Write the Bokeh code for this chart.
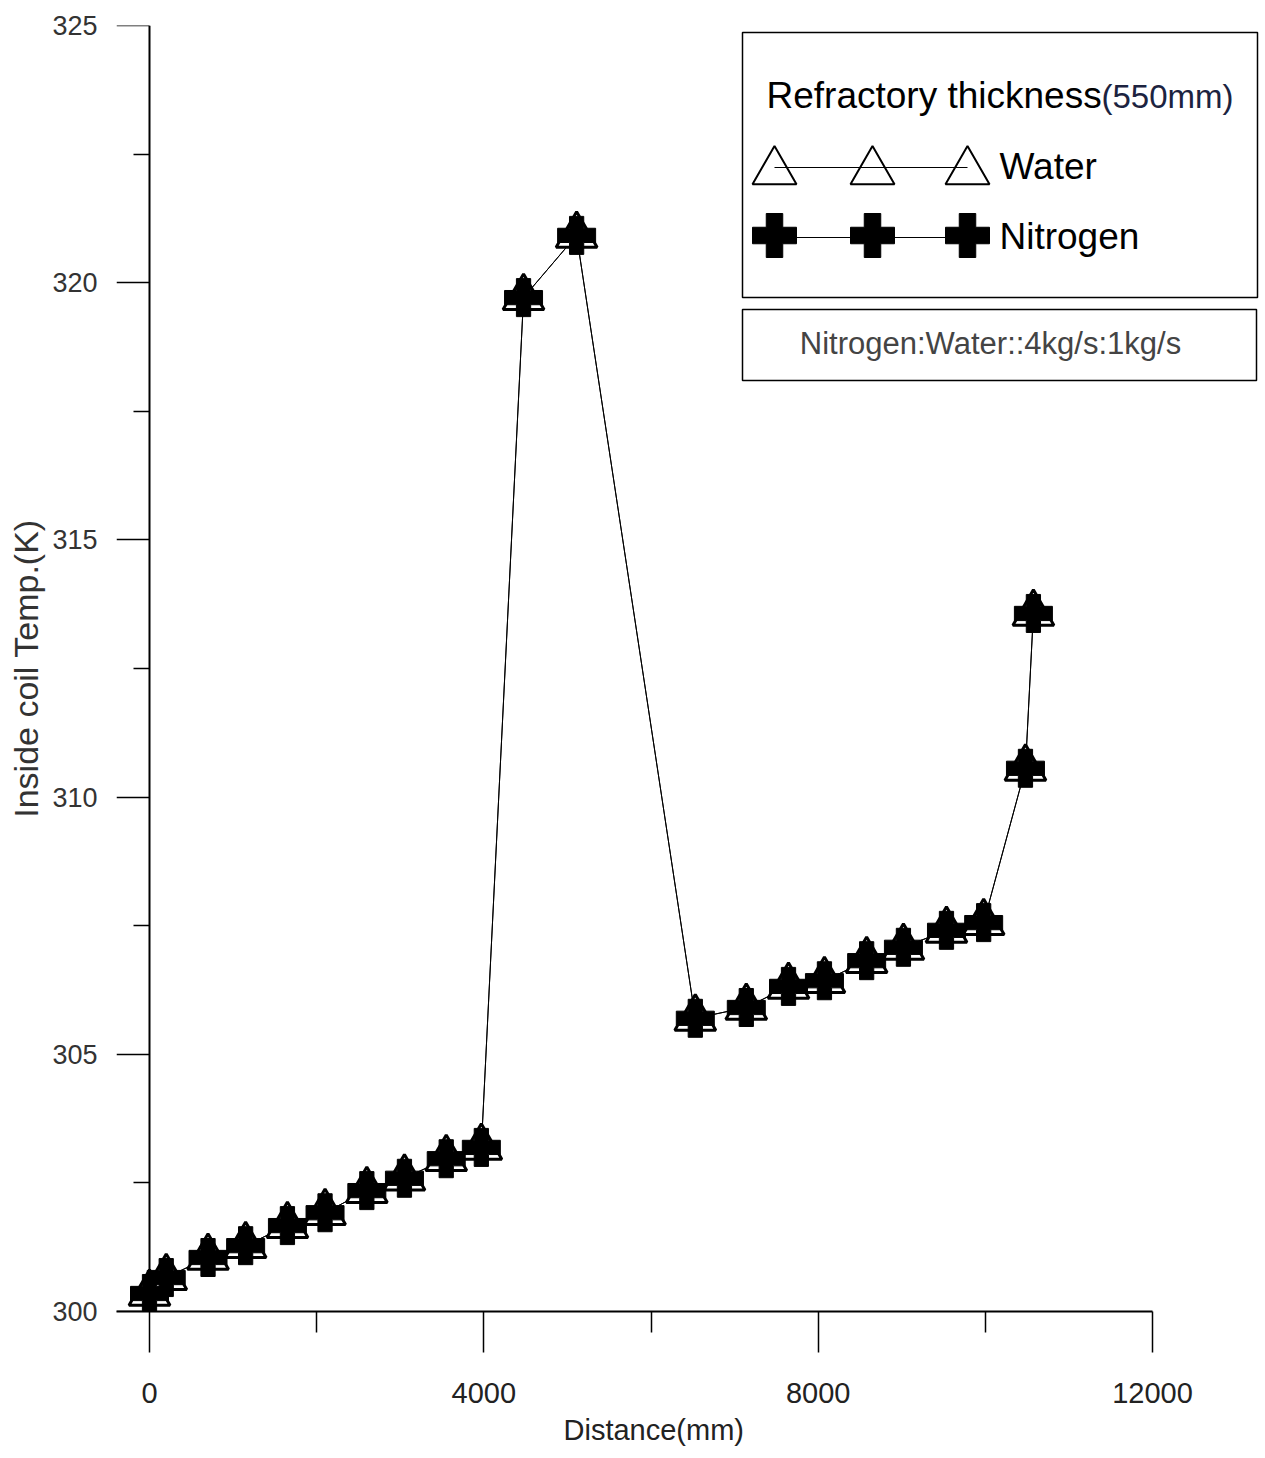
import math
from bokeh.plotting import figure
from bokeh.models import (Range1d, FixedTicker, Label, BoxAnnotation, ColumnDataSource,
                          LinearAxis, Title)
from bokeh.embed import file_html
from bokeh.resources import INLINE

# ---------------- data ----------------
distance_mm = [0, 200, 700, 1150, 1650, 2100, 2600, 3050, 3550, 3970,
               4475, 5110, 6530, 7140, 7645, 8075, 8580, 9020, 9535, 9980,
               10480, 10575]
water_temp = [300.35, 300.66, 301.05, 301.28, 301.67, 301.92, 302.35, 302.59,
              302.97, 303.19, 319.71, 320.92, 305.70, 305.91, 306.32, 306.43,
              306.82, 307.08, 307.41, 307.56, 310.56, 313.57]
nitrogen_temp = [300.35, 300.66, 301.05, 301.28, 301.67, 301.92, 302.35, 302.59,
                 302.97, 303.19, 319.71, 320.92, 305.70, 305.91, 306.32, 306.43,
                 306.82, 307.08, 307.41, 307.56, 310.56, 313.57]
x_major_ticks = [0, 4000, 8000, 12000]
x_minor_ticks = [2000, 6000, 10000]
y_major_ticks = [300, 305, 310, 315, 320, 325]
y_minor_ticks = [302.5, 307.5, 312.5, 317.5, 322.5]
series_names = ["Water", "Nitrogen"]
legend_title = "Refractory thickness"
legend_title_unit = "(550mm)"
ratio_note = "Nitrogen:Water::4kg/s:1kg/s"
x_title = "Distance(mm)"
y_title = "Inside coil Temp.(K)"

# ---------------- layout geometry ----------------
W, H = 1265, 1458
FL, FR, FT, FB = 116, 1263, 25, 1311
X0 = -395
MM_PER_PX = 12395 / 1036
X1 = X0 + (FR - FL) * MM_PER_PX
X_AXIS_END = 12000
Y0, Y1 = 300, 325


def dx(px):
    return X0 + (px - FL) * (X1 - X0) / (FR - FL)


def dy(py):
    return Y0 + (FB - py) * (Y1 - Y0) / (FB - FT)


SANS = "Liberation Sans"

p = figure(width=W, height=H, output_backend="svg", toolbar_location=None,
           x_range=Range1d(X0, X1), y_range=Range1d(Y0, Y1),
           min_border_left=FL, min_border_right=W - FR,
           min_border_top=FT, min_border_bottom=H - FB,
           y_axis_location=None)
p.outline_line_color = None
p.grid.visible = False
p.background_fill_color = "white"
p.border_fill_color = "white"

# x axis
xa = p.xaxis[0]
xa.bounds = (X0, X_AXIS_END)
xa.ticker = FixedTicker(ticks=x_major_ticks, minor_ticks=x_minor_ticks)
xa.axis_line_width = 2
xa.axis_line_color = "black"
xa.major_tick_in = 0
xa.major_tick_out = 41
xa.minor_tick_in = 0
xa.minor_tick_out = 21
xa.major_tick_line_width = 1.5
xa.minor_tick_line_width = 1.5
xa.major_label_text_font = SANS
xa.major_label_text_font_size = "29px"
xa.major_label_text_color = "#222222"
xa.major_label_standoff = 30

# x title, centred under the data span (not the whole frame)
p.add_layout(Title(text=x_title, align="left", offset=563 - FL, standoff=12,
                   text_font=SANS, text_font_size="29px", text_font_style="normal",
                   text_color="#222222"), "below")

# y axis line + ticks drawn at x = 0 (kept in the right panel so ticks point left)
y_ticker = FixedTicker(ticks=y_major_ticks, minor_ticks=y_minor_ticks)
ya = LinearAxis(ticker=y_ticker, fixed_location=0)
ya.axis_line_width = 2
ya.axis_line_color = "black"
ya.major_tick_in = 33
ya.major_tick_out = 0
ya.minor_tick_in = 16
ya.minor_tick_out = 0
ya.major_tick_line_width = 1.5
ya.minor_tick_line_width = 1.5
ya.major_label_text_font_size = "1px"
ya.major_label_text_color = None
ya.major_label_standoff = 0
p.add_layout(ya, "right")

# y tick labels + title in the left panel
yl = LinearAxis(ticker=y_ticker)
yl.axis_line_color = None
yl.major_tick_line_color = None
yl.minor_tick_line_color = None
yl.major_tick_in = 0
yl.major_tick_out = 0
yl.minor_tick_in = 0
yl.minor_tick_out = 0
yl.major_label_text_font = SANS
yl.major_label_text_font_size = "27px"
yl.major_label_text_color = "#333333"
yl.major_label_standoff = 19
yl.axis_label = y_title
yl.axis_label_text_font = SANS
yl.axis_label_text_font_size = "34px"
yl.axis_label_text_font_style = "normal"
yl.axis_label_text_color = "#333333"
yl.axis_label_standoff = 4
p.add_layout(yl, "left")

# ---------------- data series ----------------
src = ColumnDataSource(dict(x=distance_mm, water=water_temp, nitrogen=nitrogen_temp))
p.line("x", "water", source=src, line_color="black", line_width=1)
p.line("x", "nitrogen", source=src, line_color="black", line_width=1)
p.scatter("x", "water", source=src, marker="triangle", size=41,
          fill_color="white", line_color="black", line_width=3)
p.scatter("x", "nitrogen", source=src, marker="plus", size=38,
          fill_color="black", line_color="black", line_width=1)

# ---------------- legend boxes ----------------
p.add_layout(BoxAnnotation(left=dx(742), right=dx(1257), top=dy(32), bottom=dy(297),
                           fill_color=None, line_color="black", line_alpha=1.0,
                           line_width=1.5))
p.add_layout(BoxAnnotation(left=dx(742), right=dx(1256), top=dy(309), bottom=dy(380),
                           fill_color=None, line_color="black", line_alpha=1.0,
                           line_width=1.5))

p.add_layout(Label(x=dx(766), y=dy(95), text=legend_title, text_font=SANS,
                   text_font_size="37px", text_color="black",
                   text_align="left", text_baseline="middle"))
p.add_layout(Label(x=dx(1101), y=dy(96), text=legend_title_unit, text_font=SANS,
                   text_font_size="33px", text_color="#1c2340",
                   text_align="left", text_baseline="middle"))
p.add_layout(Label(x=dx(999), y=dy(166), text=series_names[0], text_font=SANS,
                   text_font_size="37px", text_color="black",
                   text_align="left", text_baseline="middle"))
p.add_layout(Label(x=dx(999), y=dy(236), text=series_names[1], text_font=SANS,
                   text_font_size="37px", text_color="black",
                   text_align="left", text_baseline="middle"))
p.add_layout(Label(x=dx(990), y=dy(343), text=ratio_note, text_font=SANS,
                   text_font_size="31px", text_color="#444444",
                   text_align="center", text_baseline="middle"))

# legend keys (three markers joined by a line, as in the original)
key_px = [774, 872, 967]
key_src_w = ColumnDataSource(dict(x=[dx(v) for v in key_px], y=[dy(171)] * 3))
key_src_n = ColumnDataSource(dict(x=[dx(v) for v in key_px], y=[dy(235)] * 3))
p.line(x=[dx(774), dx(967)], y=[dy(167), dy(167)], line_color="black", line_width=1)
p.line(x=[dx(774), dx(967)], y=[dy(237), dy(237)], line_color="black", line_width=1)
p.scatter("x", "y", source=key_src_w, marker="triangle", size=44,
          fill_color=None, line_color="black", line_width=2)
p.scatter("x", "y", source=key_src_n, marker="plus", size=44,
          fill_color="black", line_color="black", line_width=1)

open("out.html", "w").write(file_html(p, INLINE))
